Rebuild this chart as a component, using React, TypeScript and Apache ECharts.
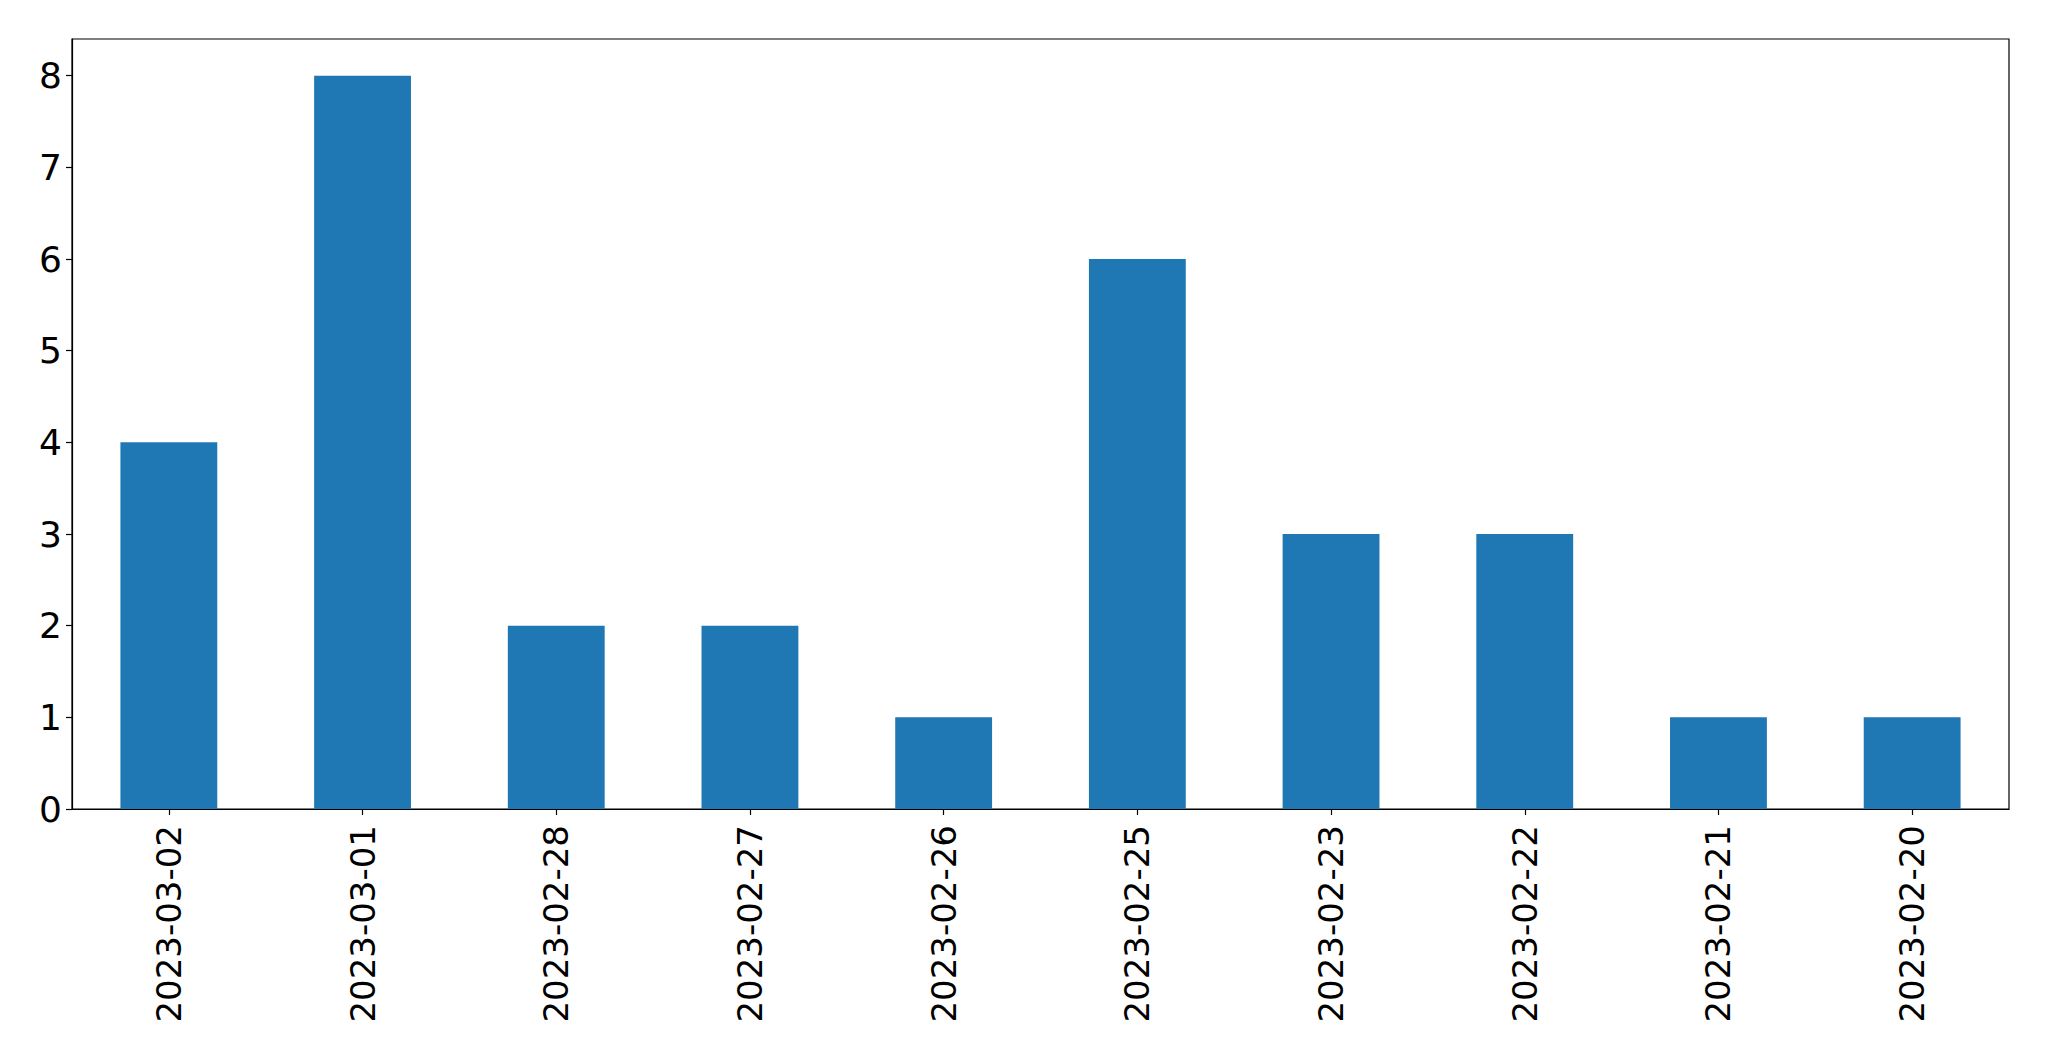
import React, { useEffect, useRef } from "react";
import * as echarts from "echarts";

const categories = [
  "2023-03-02",
  "2023-03-01",
  "2023-02-28",
  "2023-02-27",
  "2023-02-26",
  "2023-02-25",
  "2023-02-23",
  "2023-02-22",
  "2023-02-21",
  "2023-02-20",
];
const counts = [4, 8, 2, 2, 1, 6, 3, 3, 1, 1];
const yTicks = [0, 1, 2, 3, 4, 5, 6, 7, 8];
const yMax = 8.4;

export default function App() {
  const ref = useRef<HTMLDivElement>(null);
  useEffect(() => {
    if (!ref.current) return;
    const chart = echarts.init(ref.current, undefined, { renderer: "svg" });
    const font = "DejaVu Sans";
    chart.setOption({
      animation: false,
      backgroundColor: "#ffffff",
      grid: {
        left: 72,
        right: 40,
        top: 39,
        bottom: 252,
        show: true,
        borderColor: "#000000",
        borderWidth: 1.2,
        backgroundColor: "transparent",
      },
      xAxis: {
        type: "category",
        data: categories,
        axisLine: { show: true, lineStyle: { color: "#000000", width: 1.2 } },
        axisTick: {
          show: true,
          alignWithLabel: true,
          length: 6,
          lineStyle: { color: "#000000", width: 1.2 },
        },
        axisLabel: {
          rotate: 90,
          margin: 16,
          fontFamily: font,
          fontSize: 34,
          color: "#000000",
          interval: 0,
        },
        splitLine: { show: false },
      },
      yAxis: {
        type: "value",
        min: 0,
        max: yMax,
        interval: 1,
        axisLine: { show: true, lineStyle: { color: "#000000", width: 1.2 } },
        axisTick: {
          show: true,
          length: 6,
          customValues: yTicks,
          lineStyle: { color: "#000000", width: 1.2 },
        },
        axisLabel: {
          margin: 10,
          fontFamily: font,
          fontSize: 36,
          color: "#000000",
          customValues: yTicks,
        },
        splitLine: { show: false },
      },
      series: [
        {
          type: "bar",
          data: counts,
          barWidth: "50%",
          itemStyle: { color: "#1f77b4" },
        },
      ],
    });
    return () => chart.dispose();
  }, []);
  return <div ref={ref} style={{ width: 2049, height: 1061, margin: -8 }} />;
}
